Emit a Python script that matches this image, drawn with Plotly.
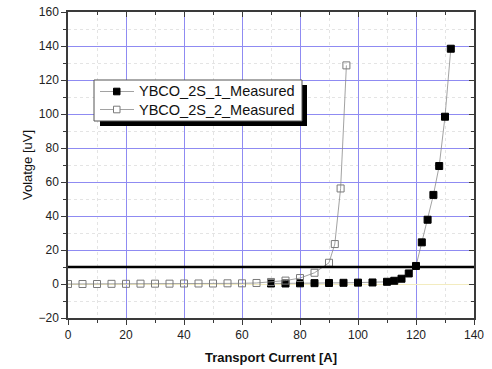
import plotly.graph_objects as go

# Series 1: YBCO_2S_1_Measured
current_1 = [70, 75, 80, 85, 90, 95, 100, 105, 110, 112.5, 115, 117.5, 120, 122, 124, 126, 128, 130, 132]
voltage_1 = [0.3, 0.3, 0.4, 0.5, 0.6, 0.7, 0.8, 0.9, 1.3, 1.9, 3.1, 6.2, 10.6, 24.5, 37.8, 52.4, 69.4, 98.4, 138.4]

# Series 2: YBCO_2S_2_Measured
current_2 = [0, 5, 10, 15, 20, 25, 30, 35, 40, 45, 50, 55, 60, 65, 70, 75, 80, 85, 90, 92, 94, 96]
voltage_2 = [0.0, 0.0, 0.0, 0.1, 0.1, 0.2, 0.2, 0.2, 0.3, 0.3, 0.3, 0.4, 0.4, 0.6, 1.2, 2.0, 3.5, 6.6, 12.5, 23.5, 56.2, 128.6]

series_names = ["YBCO_2S_1_Measured", "YBCO_2S_2_Measured"]
threshold = 10
x_ticks = [0, 20, 40, 60, 80, 100, 120, 140]
x_minor = [10, 30, 50, 70, 90, 110, 130]
y_ticks = [-20, 0, 20, 40, 60, 80, 100, 120, 140, 160]
y_minor = [-10, 10, 30, 50, 70, 90, 110, 130, 150]

FONT = "Liberation Sans, Arial, sans-serif"
LINE_C = "#8a8a8a"
OPEN_C = "#7a7a7a"

# plot area in pixels (for legend placement in paper coords)
L, R, T, B = 68, 474, 12, 318
def px(x):
    return (x - L) / (R - L)
def py(y):
    return (B - y) / (B - T)

fig = go.Figure()
fig.add_trace(go.Scatter(
    x=current_1, y=voltage_1, name=series_names[0], mode="lines+markers",
    line=dict(color=LINE_C, width=0.8),
    marker=dict(symbol="square", size=7, color="black", line=dict(color="black", width=1)),
))
fig.add_trace(go.Scatter(
    x=current_2, y=voltage_2, name=series_names[1], mode="lines+markers",
    line=dict(color=LINE_C, width=0.8),
    marker=dict(symbol="square-open", size=7, color=OPEN_C, line=dict(width=1)),
))
# invisible trace to activate the mirrored (top/right) axes
fig.add_trace(go.Scatter(x=[None], y=[None], xaxis="x2", yaxis="y2", showlegend=False, hoverinfo="skip"))

tickfont = dict(family=FONT, size=12, color="#222")
base = dict(showline=True, linecolor="#3a3a3a", linewidth=1.5, tickcolor="#3a3a3a",
            tickwidth=1, automargin=False)
GRID = "#8f8bf2"
MINOR_GRID = "#e4e4e4"

fig.update_layout(
    xaxis=dict(
        range=[0, 140], tickvals=x_ticks, zeroline=False, ticks="outside", ticklen=5,
        gridcolor=GRID, gridwidth=1, tickfont=tickfont,
        minor=dict(tickmode="array", tickvals=x_minor, ticks="outside", ticklen=3, tickcolor="#3a3a3a",
                   showgrid=True, gridcolor=MINOR_GRID, griddash="dot", gridwidth=1),
        title=dict(text="<b>Transport Current [A]</b>", font=dict(family=FONT, size=13, color="#111"), standoff=12),
        **base,
    ),
    yaxis=dict(
        range=[-20, 160], tickvals=y_ticks, zeroline=True, zerolinecolor="#f3ecc0", zerolinewidth=1,
        ticks="outside", ticklen=5, gridcolor=GRID, gridwidth=1, tickfont=tickfont,
        minor=dict(tickmode="array", tickvals=y_minor, ticks="outside", ticklen=3, tickcolor="#3a3a3a",
                   showgrid=True, gridcolor=MINOR_GRID, griddash="dot", gridwidth=1),
        title=dict(text="Volatge [uV]", font=dict(family=FONT, size=13, color="#111"), standoff=3),
        **base,
    ),
    xaxis2=dict(
        overlaying="x", side="top", range=[0, 140], tickvals=x_ticks, showticklabels=False,
        ticks="inside", ticklen=5, showgrid=False, zeroline=False,
        minor=dict(tickmode="array", tickvals=x_minor, ticks="inside", ticklen=3, tickcolor="#3a3a3a", showgrid=False),
        **base,
    ),
    yaxis2=dict(
        overlaying="y", side="right", range=[-20, 160], tickvals=y_ticks, showticklabels=False,
        ticks="inside", ticklen=5, showgrid=False, zeroline=False,
        minor=dict(tickmode="array", tickvals=y_minor, ticks="inside", ticklen=3, tickcolor="#3a3a3a", showgrid=False),
        **base,
    ),
)

# threshold line
fig.add_shape(type="line", xref="paper", yref="y", x0=0, x1=1, y0=threshold, y1=threshold,
              line=dict(color="black", width=2.5), layer="above")

# --- legend (box with drop shadow) ---
fig.add_shape(type="rect", xref="paper", yref="paper", x0=px(100), x1=px(307), y0=py(126), y1=py(85),
              fillcolor="black", line=dict(width=0), layer="above")
fig.add_shape(type="rect", xref="paper", yref="paper", x0=px(94), x1=px(302), y0=py(121), y1=py(80),
              fillcolor="white", line=dict(color="#555", width=1), layer="above")
rows = [91.5, 109.5]
for i, (name, yc) in enumerate(zip(series_names, rows)):
    fig.add_shape(type="line", xref="paper", yref="paper", x0=px(100), x1=px(134), y0=py(yc), y1=py(yc),
                  line=dict(color=LINE_C, width=0.8), layer="above")
    fill = "black" if i == 0 else "white"
    edge = "black" if i == 0 else OPEN_C
    fig.add_shape(type="rect", xref="paper", yref="paper", x0=px(113.5), x1=px(120), y0=py(yc + 3.3), y1=py(yc - 3.3),
                  fillcolor=fill, line=dict(color=edge, width=1), layer="above")
    fig.add_annotation(xref="paper", yref="paper", x=px(137), y=py(yc), text=name, showarrow=False,
                       xanchor="left", yanchor="middle", font=dict(family=FONT, size=14.5, color="#111"))

fig.update_layout(
    width=492, height=369,
    margin=dict(l=L, r=492 - R, t=T, b=369 - B, autoexpand=False),
    paper_bgcolor="white", plot_bgcolor="white",
    showlegend=False,
    font=dict(family=FONT),
)

fig.write_html("out.html", config={"displayModeBar": False},
               post_script="document.body.style.margin='0';")
